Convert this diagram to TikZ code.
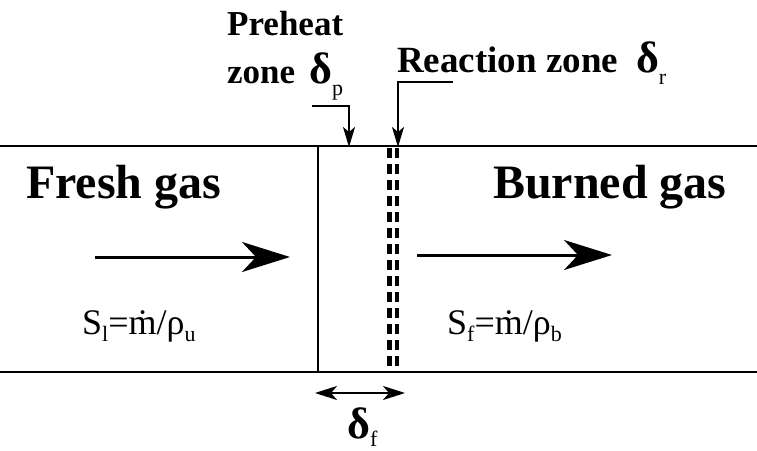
\documentclass[tikz,border=0pt]{standalone}
\usepackage{fontspec}
\setmainfont{Liberation Serif}
\usetikzlibrary{arrows.meta}
\newcommand{\deltasub}[2][-12pt]{{\fontsize{44}{44}\selectfont\bfseries δ}{\fontsize{22}{22}\selectfont\mdseries\raisebox{#1}{#2}}}
\newcommand{\lowsub}[1]{{\fontsize{22}{22}\selectfont\raisebox{-7pt}{#1}}}
\tikzset{
  wall/.style={line width=2pt},
  frontline/.style={line width=4.5pt, dash pattern=on 10pt off 6pt},
  flowarrow/.style={line width=3pt, -{Stealth[length=48pt,width=30pt,inset=14pt]}},
  pointer/.style={line width=2pt, -{Stealth[length=20pt,width=12pt,inset=5pt]}},
  thickarrow/.style={line width=2pt, {Stealth[length=22pt,width=14pt,inset=6pt]}-{Stealth[length=22pt,width=14pt,inset=6pt]}},
  biglabel/.style={font=\fontsize{48}{50}\selectfont\bfseries, inner sep=0pt, anchor=base west},
  zonelabel/.style={font=\fontsize{35}{36}\selectfont\bfseries, inner sep=0pt, anchor=base west},
  formula/.style={font=\fontsize{36}{38}\selectfont, inner sep=0pt, anchor=base west}
}
\begin{document}
\begin{tikzpicture}[x=1pt,y=-1pt]
  \useasboundingbox (0,0) rectangle (757,450);

  % channel walls
  \coordinate (tl) at (0,146);
  \coordinate (tr) at (757,146);
  \coordinate (bl) at (0,372);
  \coordinate (br) at (757,372);
  \draw[wall] (tl) -- (tr);
  \draw[wall] (bl) -- (br);

  % preheat edge and reaction zone
  \coordinate (ptop) at (318,146);
  \coordinate (pbot) at (318,372);
  \draw[wall] (ptop) -- (pbot);
  \coordinate (r1top) at (389.5,148);
  \coordinate (r1bot) at (389.5,372);
  \coordinate (r2top) at (397,148);
  \coordinate (r2bot) at (397,372);
  \draw[frontline] (r1top) -- (r1bot);
  \draw[frontline] (r2top) -- (r2bot);

  % labels
  \node[biglabel] (fresh)  at (26,198)  {Fresh gas};
  \node[biglabel] (burned) at (493,198) {Burned gas};
  \node[zonelabel] (preheat)     at (227,35) {Preheat};
  \node[zonelabel] (preheatzone) at (227,83) {zone\hspace{14pt}\deltasub{p}};
  \node[zonelabel,font=\fontsize{37}{38}\selectfont\bfseries] (reaction) at (397,72) {Reaction zone\hspace{18pt}\deltasub{r}};
  \node[formula] (slaminar) at (82,334)  {S\lowsub{l}=\.{m}/ρ\lowsub{u}};
  \node[formula] (sflame)   at (447,334) {S\lowsub{f}=\.{m}/ρ\lowsub{b}};
  \node[inner sep=0pt,anchor=base west] (thick) at (347,438) {\deltasub[-8pt]{f}};

  % flow arrows
  \coordinate (inA)  at (95,257);
  \coordinate (inB)  at (290,257);
  \coordinate (outA) at (417,255);
  \coordinate (outB) at (612,255);
  \draw[flowarrow] (inA) -- (inB);
  \draw[flowarrow] (outA) -- (outB);

  % pointers to the zones
  \coordinate (pcorner) at (312,106);
  \coordinate (ptip)    at (349,147);
  \coordinate (rcorner) at (453,82);
  \coordinate (rtip)    at (398,147);
  \draw[pointer] (pcorner) -| (ptip);
  \draw[pointer] (rcorner) -| (rtip);

  % flame thickness
  \coordinate (fleft)  at (315,393);
  \coordinate (fright) at (405,393);
  \draw[thickarrow] (fleft) -- (fright);
\end{tikzpicture}
\end{document}
